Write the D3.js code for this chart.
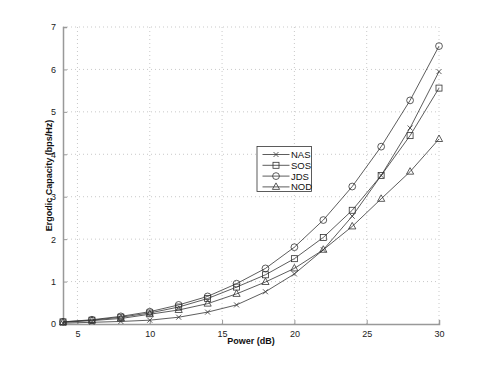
<!DOCTYPE html>
<html>
<head>
<meta charset="utf-8">
<script src="https://cdn.jsdelivr.net/npm/d3@7"></script>
<style>
body { margin: 0; background: #fff; }
text { font-family: "Liberation Sans", Arial, sans-serif; }
</style>
</head>
<body>
<div id="chart"></div>
<script>
// values
var power = [4, 6, 8, 10, 12, 14, 16, 18, 20, 22, 24, 26, 28, 30];
var nas = [0.02, 0.04, 0.06, 0.09, 0.16, 0.28, 0.45, 0.76, 1.18, 1.75, 2.54, 3.50, 4.62, 5.95];
var sos = [0.05, 0.09, 0.16, 0.26, 0.40, 0.60, 0.87, 1.16, 1.54, 2.04, 2.68, 3.50, 4.44, 5.56];
var jds = [0.05, 0.10, 0.18, 0.29, 0.45, 0.65, 0.95, 1.31, 1.81, 2.45, 3.24, 4.18, 5.27, 6.55];
var nod = [0.04, 0.08, 0.13, 0.23, 0.33, 0.48, 0.71, 0.99, 1.31, 1.75, 2.30, 2.95, 3.59, 4.36];
var series_names = ["NAS", "SOS", "JDS", "NOD"];
var series_markers = ["cross", "square", "circle", "triangle"];
var x_ticks = [5, 10, 15, 20, 25, 30];
var y_ticks = [0, 1, 2, 3, 4, 5, 6, 7];

var width = 485, height = 365;
var padding = { "left": 63, "right": 46, "top": 27, "bottom": 41 };

var svg = d3.select("#chart").append("svg")
    .attr("width", width)
    .attr("height", height);

var x_scale = d3.scaleLinear().domain([4, 30]).range([padding.left, width - padding.right]);
var y_scale = d3.scaleLinear().domain([0, 7]).range([height - padding.bottom, padding.top]);

// dotted grid
svg.selectAll(".vgrid").data(x_ticks).enter().append("line")
    .attr("x1", function (d) { return x_scale(d); })
    .attr("x2", function (d) { return x_scale(d); })
    .attr("y1", y_scale(0)).attr("y2", y_scale(7))
    .attr("stroke", "#bbb").attr("stroke-width", 0.8)
    .attr("stroke-dasharray", "1,3");
svg.selectAll(".hgrid").data(y_ticks.slice(1)).enter().append("line")
    .attr("x1", x_scale(4)).attr("x2", x_scale(30))
    .attr("y1", function (d) { return y_scale(d); })
    .attr("y2", function (d) { return y_scale(d); })
    .attr("stroke", "#bbb").attr("stroke-width", 0.8)
    .attr("stroke-dasharray", "1,3");

// axes
var x_axis = d3.axisBottom(x_scale).tickValues(x_ticks).tickFormat(d3.format("d")).tickSize(-4).tickPadding(7);
var y_axis = d3.axisLeft(y_scale).tickValues(y_ticks).tickFormat(d3.format("d")).tickSize(-4).tickPadding(7);
var gx = svg.append("g").attr("transform", "translate(0," + y_scale(0) + ")").call(x_axis);
var gy = svg.append("g").attr("transform", "translate(" + x_scale(4) + ",0)").call(y_axis);
[gx, gy].forEach(function (g) {
    g.select(".domain").attr("stroke", "#999").attr("stroke-width", 1.5);
    g.selectAll(".tick line").attr("stroke", "#999");
    g.selectAll(".tick text").attr("font-size", 9).attr("fill", "#222")
        .style("font-family", "'Liberation Sans', Arial, sans-serif");
});

svg.append("text")
    .attr("x", (x_scale(4) + x_scale(30)) / 2)
    .attr("y", 344)
    .attr("text-anchor", "middle")
    .attr("font-size", 9)
    .attr("font-weight", "bold")
    .attr("fill", "#111")
    .text("Power (dB)");
svg.append("text")
    .attr("transform", "translate(52," + (y_scale(3.5)) + ") rotate(-90)")
    .attr("text-anchor", "middle")
    .attr("font-size", 9)
    .attr("font-weight", "bold")
    .attr("fill", "#111")
    .text("Ergodic Capacity (bps/Hz)");

function draw_marker(g, kind, cx, cy) {
    var s = 3;
    if (kind == "cross") {
        g.append("path").attr("d", "M" + (cx - 2.5) + "," + (cy - 2.5) + "L" + (cx + 2.5) + "," + (cy + 2.5) +
            "M" + (cx - 2.5) + "," + (cy + 2.5) + "L" + (cx + 2.5) + "," + (cy - 2.5))
            .attr("stroke", "#333").attr("stroke-width", 0.8).attr("fill", "none");
    } else if (kind == "square") {
        g.append("rect").attr("x", cx - s).attr("y", cy - s).attr("width", 2 * s).attr("height", 2 * s)
            .attr("stroke", "#333").attr("stroke-width", 0.8).attr("fill", "none");
    } else if (kind == "circle") {
        g.append("circle").attr("cx", cx).attr("cy", cy).attr("r", 3.4)
            .attr("stroke", "#333").attr("stroke-width", 0.8).attr("fill", "none");
    } else {
        g.append("path").attr("d", "M" + cx + "," + (cy - 4) + "L" + (cx + 3.6) + "," + (cy + 2.5) + "L" + (cx - 3.6) + "," + (cy + 2.5) + "Z")
            .attr("stroke", "#333").attr("stroke-width", 0.8).attr("fill", "none");
    }
}

var all_series = [nas, sos, jds, nod];
var line = d3.line()
    .x(function (d, i) { return x_scale(power[i]); })
    .y(function (d) { return y_scale(d); });

all_series.forEach(function (values, k) {
    var g = svg.append("g");
    g.append("path").attr("d", line(values))
        .attr("fill", "none").attr("stroke", "#333").attr("stroke-width", 0.8);
    values.forEach(function (v, i) {
        draw_marker(g, series_markers[k], x_scale(power[i]), y_scale(v));
    });
});

// legend
var lg = svg.append("g");
lg.append("rect").attr("x", 257).attr("y", 146.5).attr("width", 54.5).attr("height", 45)
    .attr("fill", "#fff").attr("stroke", "#333").attr("stroke-width", 0.8);
series_names.forEach(function (name, k) {
    var yy = 154.5 + k * 10.8;
    lg.append("line").attr("x1", 262.5).attr("x2", 289.5).attr("y1", yy).attr("y2", yy)
        .attr("stroke", "#333").attr("stroke-width", 0.8);
    draw_marker(lg, series_markers[k], 276, yy);
    lg.append("text").attr("x", 291).attr("y", yy + 3.5)
        .attr("font-size", 9.5).attr("fill", "#111").text(name);
});
</script>
</body>
</html>
